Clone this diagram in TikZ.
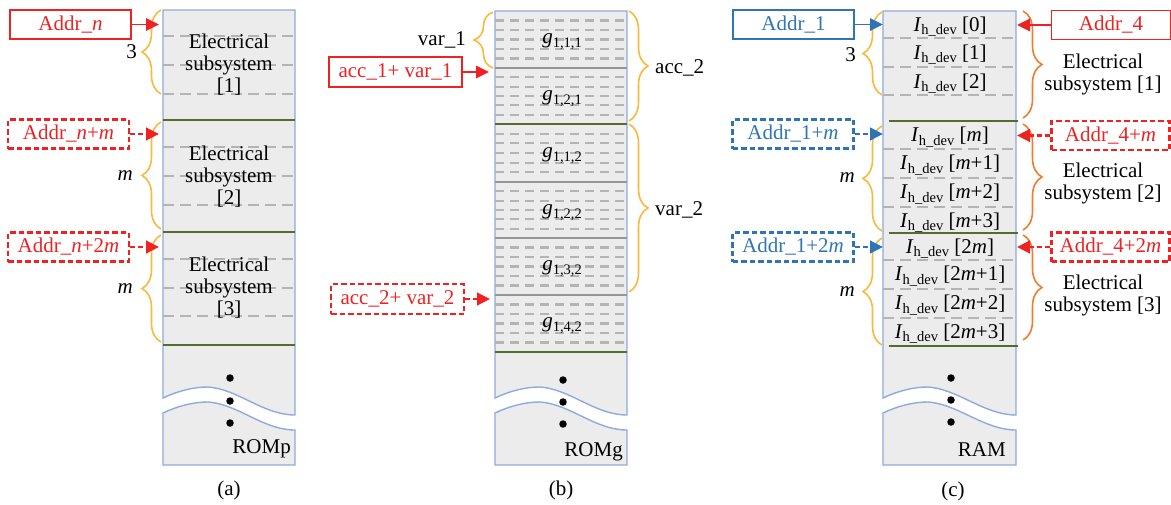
\documentclass[tikz,border=0pt]{standalone}
\usepackage{fontspec}
\setmainfont{Liberation Serif}
\usetikzlibrary{arrows.meta,decorations.pathreplacing}

\definecolor{addrred}{RGB}{238,34,34}
\definecolor{addrblue}{RGB}{46,117,182}
\definecolor{memfill}{RGB}{236,236,236}
\definecolor{memedge}{RGB}{143,170,220}
\definecolor{blockline}{RGB}{85,107,47}
\definecolor{rowdash}{RGB}{180,180,180}
\definecolor{subline}{RGB}{150,150,150}
\definecolor{bracegold}{RGB}{250,185,60}
\definecolor{braceorange}{RGB}{237,125,49}

% I_{h_dev}[k] and g_{...} entries
\newcommand{\Ihdev}[1]{\textit{I}\raisebox{-3.5pt}{\fontsize{14.5}{15}\selectfont h\_dev} [#1]}
\newcommand{\gsub}[1]{\textit{g}\raisebox{-4pt}{\fontsize{14.5}{15}\selectfont #1}}

% memory column with a torn-off lower part: left x, right x, top y
\newcommand{\brokencolumn}[3]{%
  \path[membody] (#1,#3) -- (#2,#3) -- (#2,415)
     .. controls ({#2-32},415) and ({#1+75},389) .. ({#1+45},387)
     .. controls ({#1+30},387) and ({#1+15},391) .. (#1,398) -- cycle;
  \path[membody] (#1,413) .. controls ({#1+15},406) and ({#1+30},402) .. ({#1+45},402)
     .. controls ({#1+75},404) and ({#2-32},430) .. (#2,430) -- (#2,465) -- (#1,465) -- cycle;
}

\tikzset{
  every node/.style={font=\fontsize{21}{22}\selectfont, inner sep=0pt},
  membody/.style={fill=memfill, draw=memedge, line width=1.4pt},
  rowsep/.style={draw=rowdash, line width=2.7pt, dash pattern=on 11pt off 6pt},
  finerow/.style={draw=rowdash, line width=2.2pt, dash pattern=on 9pt off 6pt},
  blocksep/.style={draw=blockline, line width=1.6pt},
  subsep/.style={draw=subline, line width=1.4pt},
  gbrace/.style={draw=bracegold, line width=1.6pt, decorate, decoration={brace, amplitude=19pt}},
  obrace/.style={gbrace, draw=braceorange},
  addrbox/.style={draw, line width=1.6pt, minimum width=121pt, minimum height=29pt},
  nextaddr/.style={addrbox, line width=2.8pt, dash pattern=on 5.5pt off 3pt},
  ptr/.style={line width=1.8pt, -{Triangle[length=13pt,width=12.5pt]}},
  nextptr/.style={ptr, line width=2.8pt, dash pattern=on 5pt off 3pt},
  ellipsisdot/.style={circle, fill=black, minimum size=7.5pt},
}

\begin{document}
\begin{tikzpicture}[x=1pt,y=-1pt]
\useasboundingbox (0,0) rectangle (1171,504);

% ---------------- (a) ROMp ----------------
\brokencolumn{163}{295}{10}
\foreach \y in {36,65,94,147,176,205,259,288,316}
  \draw[rowsep] (163,\y) -- (295,\y);
\foreach \y in {120,232,345}
  \draw[blocksep] (163,\y) -- (295,\y);
\node[align=center] (es1a) at (229,65) {Electrical\\subsystem\\{[1]}};
\node[align=center] (es2a) at (229,177) {Electrical\\subsystem\\{[2]}};
\node[align=center] (es3a) at (229,288) {Electrical\\subsystem\\{[3]}};
\foreach \y/\n in {378/1,401/2,423/3}
  \node[ellipsisdot] (dota\n) at (230,\y) {};
\node[anchor=east] (romp) at (291,449) {ROMp};
\node (capa) at (229,490) {(a)};

\draw[gbrace] (161,94) -- (161,10);
\draw[gbrace] (161,229) -- (161,122);
\draw[gbrace] (161,342) -- (161,235);
\node[anchor=east] (na3) at (137,52) {3};
\node[anchor=east] (nam1) at (133,176) {\textit{m}};
\node[anchor=east] (nam2) at (133,289) {\textit{m}};

\node[addrbox, draw=addrred, text=addrred] (addrn) at (70.5,24.5) {Addr\_\textit{n}};
\node[nextaddr, draw=addrred, text=addrred] (addrnm) at (68.5,134) {Addr\_\textit{n}+\textit{m}};
\node[nextaddr, draw=addrred, text=addrred] (addrn2m) at (68.5,247) {Addr\_\textit{n}+2\textit{m}};
\coordinate (ina0) at (159,24.5);
\coordinate (ina1) at (159,134);
\coordinate (ina2) at (159,247);
\draw[ptr, addrred] (addrn) -- (ina0);
\draw[nextptr, addrred] (addrnm) -- (ina1);
\draw[nextptr, addrred] (addrn2m) -- (ina2);

% ---------------- (b) ROMg ----------------
\brokencolumn{495}{627}{11}
\foreach \t/\b in {11/68,68/124,124/182,182/238,238/295,295/352}
  \foreach \k in {1,...,5}
    \draw[finerow] (495,{\t+(\b-\t)*\k/6}) -- (627,{\t+(\b-\t)*\k/6});
\foreach \y in {68,182,238,295}
  \draw[subsep] (495,\y) -- (627,\y);
\foreach \y in {124,352}
  \draw[blocksep] (495,\y) -- (627,\y);
\node[anchor=base] (g111) at (562,43.5) {\gsub{1,1,1}};
\node[anchor=base] (g121) at (562,100) {\gsub{1,2,1}};
\node[anchor=base] (g112) at (562,157) {\gsub{1,1,2}};
\node[anchor=base] (g122) at (562,214) {\gsub{1,2,2}};
\node[anchor=base] (g132) at (562,270.5) {\gsub{1,3,2}};
\node[anchor=base] (g142) at (562,327.5) {\gsub{1,4,2}};
\foreach \y/\n in {380/1,402/2,424/3}
  \node[ellipsisdot] (dotb\n) at (563,\y) {};
\node[anchor=east] (romg) at (623,452) {ROMg};
\node (capb) at (561,490) {(b)};

\draw[gbrace] (493,68) -- (493,12);
\draw[gbrace] (629,11) -- (629,121);
\draw[gbrace] (629,124) -- (629,292);
\node[anchor=east] (var1) at (466,40) {var\_1};
\node[anchor=west] (acc2) at (655,68) {acc\_2};
\node[anchor=west] (var2) at (655,210) {var\_2};

\node[addrbox, draw=addrred, text=addrred, minimum width=133pt, minimum height=30pt] (acc1var1) at (395.5,72) {acc\_1+ var\_1};
\node[nextaddr, draw=addrred, text=addrred, minimum width=133pt, minimum height=30pt] (acc2var2) at (397.5,299) {acc\_2+ var\_2};
\coordinate (inb0) at (489,72);
\coordinate (inb1) at (490,299);
\draw[ptr, addrred] (acc1var1) -- (inb0);
\draw[nextptr, addrred] (acc2var2) -- (inb1);

% ---------------- (c) RAM ----------------
\brokencolumn{883}{1016}{11}
\foreach \y in {38,67,95,149,178,207,260,289,318}
  \draw[rowsep] (883,\y) -- (1016,\y);
\foreach \y in {121,233,346}
  \draw[blocksep] (889,\y) -- (1018,\y);
\node[anchor=base] (ih0) at (950,31) {\Ihdev{0}};
\node[anchor=base] (ih1) at (950,59) {\Ihdev{1}};
\node[anchor=base] (ih2) at (950,88) {\Ihdev{2}};
\node[anchor=base] (ihm0) at (950,141.5) {\Ihdev{\textit{m}}};
\node[anchor=base] (ihm1) at (950,169.5) {\Ihdev{\textit{m}+1}};
\node[anchor=base] (ihm2) at (950,198.5) {\Ihdev{\textit{m}+2}};
\node[anchor=base] (ihm3) at (950,227) {\Ihdev{\textit{m}+3}};
\node[anchor=base] (ihn0) at (950,253) {\Ihdev{2\textit{m}}};
\node[anchor=base] (ihn1) at (950,280.5) {\Ihdev{2\textit{m}+1}};
\node[anchor=base] (ihn2) at (950,309.5) {\Ihdev{2\textit{m}+2}};
\node[anchor=base] (ihn3) at (950,338) {\Ihdev{2\textit{m}+3}};
\foreach \y/\n in {378/1,400/2,422/3}
  \node[ellipsisdot] (dotc\n) at (951,\y) {};
\node[anchor=east] (ram) at (1006,450) {RAM};
\node (capc) at (953,491) {(c)};

\draw[gbrace] (882,95) -- (882,12);
\draw[gbrace] (882,231) -- (882,126);
\draw[gbrace] (882,345) -- (882,238);
\node[anchor=east] (nc3) at (856,55) {3};
\node[anchor=east] (ncm1) at (855,178) {\textit{m}};
\node[anchor=east] (ncm2) at (855,292) {\textit{m}};

\draw[obrace] (1023,11) -- (1023,118);
\draw[obrace] (1023,124) -- (1023,230);
\draw[obrace] (1023,235) -- (1023,340);
\node[align=center] (es1c) at (1103,74) {Electrical\\subsystem [1]};
\node[align=center] (es2c) at (1103,183) {Electrical\\subsystem [2]};
\node[align=center] (es3c) at (1103,295) {Electrical\\subsystem [3]};

\node[addrbox, draw=addrblue, text=addrblue] (addr1) at (793.5,24.5) {Addr\_1};
\node[nextaddr, draw=addrblue, text=addrblue] (addr1m) at (793,134) {Addr\_1+\textit{m}};
\node[nextaddr, draw=addrblue, text=addrblue] (addr12m) at (793,247) {Addr\_1+2\textit{m}};
\coordinate (inc0) at (883,24.5);
\coordinate (inc1) at (883,134);
\coordinate (inc2) at (883,247);
\draw[ptr, addrblue] (addr1) -- (inc0);
\draw[nextptr, addrblue] (addr1m) -- (inc1);
\draw[nextptr, addrblue] (addr12m) -- (inc2);

\node[addrbox, draw=addrred, text=addrred, minimum width=119pt] (addr4) at (1111,25) {Addr\_4};
\node[nextaddr, draw=addrred, text=addrred, minimum width=118pt] (addr4m) at (1110.5,135.5) {Addr\_4+\textit{m}};
\node[nextaddr, draw=addrred, text=addrred, minimum width=118pt] (addr42m) at (1110.5,247) {Addr\_4+2\textit{m}};
\coordinate (ind0) at (1017,25);
\coordinate (ind1) at (1017,135.5);
\coordinate (ind2) at (1017,247);
\draw[ptr, addrred] (addr4) -- (ind0);
\draw[nextptr, addrred] (addr4m) -- (ind1);
\draw[nextptr, addrred] (addr42m) -- (ind2);

\end{tikzpicture}
\end{document}
